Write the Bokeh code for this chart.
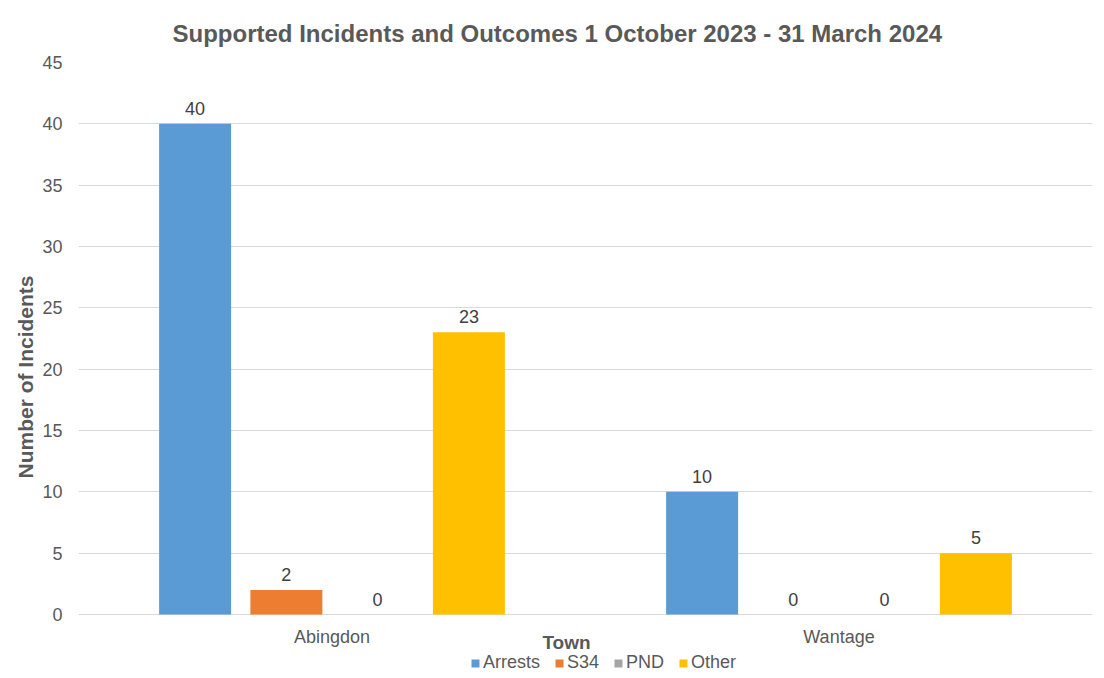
from bokeh.plotting import figure
from bokeh.models import (ColumnDataSource, FactorRange, Legend, LegendItem, LabelSet,
                          Label, Title, FixedTicker, Range1d)
from bokeh.transform import dodge
from bokeh.embed import file_html
from bokeh.resources import INLINE
from bokeh.core.properties import value

towns = ["Abingdon", "Wantage"]
series = ["Arrests", "S34", "PND", "Other"]
arrests = [40, 10]
s34 = [2, 0]
pnd = [0, 0]
other = [23, 5]
y_ticks = [0, 5, 10, 15, 20, 25, 30, 35, 40, 45]
colors = ["#5B9BD5", "#ED7D31", "#A5A5A5", "#FFC000"]

data = {"town": towns, "Arrests": arrests, "S34": s34, "PND": pnd, "Other": other}
for s in series:
    data[s + "_lbl"] = [str(v) for v in data[s]]
src = ColumnDataSource(data)

FONT = "Liberation Sans"
GREY = "#595959"

# frame spans from the top of the value axis down to the page bottom; the part
# below zero holds the category labels, the axis title and the legend
y_max = 45
y_min = -y_max * 64 / 552
p = figure(x_range=FactorRange(*towns, range_padding=0), y_range=Range1d(y_min, y_max),
           frame_width=1014, frame_height=616, output_backend="svg", toolbar_location=None,
           min_border_left=78, min_border_right=12, min_border_top=62, min_border_bottom=0)

offsets = [-0.27, -0.09, 0.09, 0.27]
items = []
for s, c, off in zip(series, colors, offsets):
    r = p.vbar(x=dodge("town", off, range=p.x_range), top=s, width=0.142, source=src,
               fill_color=c, line_color=None)
    items.append(LegendItem(label=s, renderers=[r]))
    lbl = LabelSet(x=dodge("town", off, range=p.x_range), y=s, text=s + "_lbl", source=src,
                   text_align="center", text_baseline="bottom", y_offset=9,
                   text_font=value(FONT), text_font_size="18px", text_color="#404040")
    p.add_layout(lbl)

# category labels under the zero line
p.add_layout(LabelSet(x="town", y=0, text="town", source=src, y_offset=-22,
                      text_align="center", text_baseline="middle",
                      text_font=value(FONT), text_font_size="18px", text_color=GREY))

p.title.text = "Supported Incidents and Outcomes 1 October 2023 - 31 March 2024"
p.title.align = "left"
p.title.offset = 94
p.title.standoff = 32
p.title.text_font = FONT
p.title.text_font_size = "24px"
p.title.text_font_style = "bold"
p.title.text_color = GREY

p.yaxis.ticker = FixedTicker(ticks=y_ticks)
p.ygrid.ticker = FixedTicker(ticks=y_ticks)
p.ygrid.grid_line_color = "#D9D9D9"
p.ygrid.grid_line_width = 1
p.xgrid.grid_line_color = None
p.yaxis.axis_line_color = None
p.yaxis.major_tick_line_color = None
p.yaxis.minor_tick_line_color = None
p.yaxis.major_label_standoff = 10
p.yaxis.major_label_text_font = FONT
p.yaxis.major_label_text_font_size = "18px"
p.yaxis.major_label_text_color = GREY
p.xaxis.visible = False
p.outline_line_color = None

p.add_layout(Label(x=488, y=36, x_units="screen", y_units="screen", text="Town",
                   text_align="center", text_baseline="middle",
                   text_font=FONT, text_font_size="19px", text_font_style="bold",
                   text_color=GREY))

ytitle = Title(text="Number of Incidents", align="left", offset=200, standoff=6,
               text_font=FONT, text_font_size="21px", text_font_style="bold",
               text_color=GREY)
p.add_layout(ytitle, "left")

legend = Legend(items=items, orientation="horizontal", location=(392, 5),
                label_text_font=FONT, label_text_font_size="18px", label_text_color=GREY,
                glyph_width=10, glyph_height=10, spacing=14, label_standoff=3,
                label_height=18, padding=0, margin=0, border_line_color=None,
                background_fill_alpha=0)
p.add_layout(legend, "center")

p.border_fill_color = "white"
out = file_html(p, INLINE)
open("out.html", "w").write(out)
